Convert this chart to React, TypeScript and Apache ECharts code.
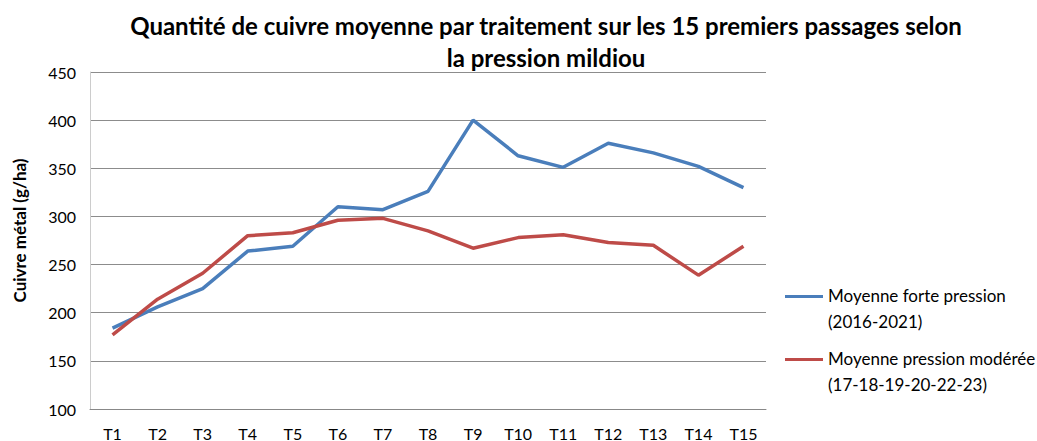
import React, { useEffect, useRef } from "react";
import * as echarts from "echarts";

const categories = ["T1", "T2", "T3", "T4", "T5", "T6", "T7", "T8", "T9", "T10", "T11", "T12", "T13", "T14", "T15"];
const forteValues = [184, 206, 225, 264, 269, 310, 307, 326, 400, 363, 351, 376, 366, 352, 330];
const modereeValues = [177, 214, 241, 280, 283, 296, 298, 285, 267, 278, 281, 273, 270, 239, 269];
const forteName = "Moyenne forte pression\n(2016-2021)";
const modereeName = "Moyenne pression modérée\n(17-18-19-20-22-23)";
const titleText = "Quantité de cuivre moyenne par traitement sur les 15 premiers passages selon\nla pression mildiou";
const yAxisName = "Cuivre métal (g/ha)";

const FONT = "Lato, 'Open Sans', sans-serif";
const ICON = "path://M0,0L38,0L38,3L0,3Z M0,25.95L0.01,25.95L0.01,26L0,26Z";

const legendBase = {
  orient: "vertical",
  left: 780,
  itemWidth: 38,
  itemHeight: 29,
  itemGap: 0,
  itemTextGap: 2,
  icon: ICON,
  textStyle: { fontFamily: FONT, fontSize: 17, color: "#000", lineHeight: 26 },
};

export default function App() {
  const ref = useRef<HTMLDivElement>(null);
  useEffect(() => {
    if (!ref.current) return;
    const chart = echarts.init(ref.current, null, { renderer: "svg" });
    chart.setOption({
      animation: false,
      backgroundColor: "#ffffff",
      title: {
        text: titleText,
        left: 541,
        top: 4,
        textAlign: "center",
        textStyle: { fontFamily: FONT, fontSize: 24, fontWeight: "bold", color: "#000", lineHeight: 32 },
      },
      legend: [
        { ...legendBase, top: 277, data: [forteName] },
        { ...legendBase, top: 340, data: [modereeName] },
      ],
      grid: { left: 90, right: 271, top: 72, bottom: 31 },
      xAxis: {
        type: "category",
        data: categories,
        boundaryGap: true,
        axisLine: { lineStyle: { color: "#888", width: 1 } },
        axisTick: { show: false },
        axisLabel: { fontFamily: FONT, fontSize: 16, color: "#000", margin: 16 },
      },
      yAxis: {
        type: "value",
        min: 100,
        max: 450,
        interval: 50,
        name: yAxisName,
        nameLocation: "middle",
        nameGap: 62,
        nameTextStyle: { fontFamily: FONT, fontSize: 17, fontWeight: "bold", color: "#000", padding: [0, 0, 0, 20] },
        axisLine: { show: true, lineStyle: { color: "#ccc" } },
        axisTick: { show: false },
        axisLabel: { fontFamily: FONT, fontSize: 16, color: "#000", margin: 14 },
        splitLine: { lineStyle: { color: "#8c8c8c", width: 1 } },
      },
      series: [
        {
          name: forteName,
          type: "line",
          data: forteValues,
          symbol: "none",
          color: "#4a7ebb",
          lineStyle: { width: 3.5, color: "#4a7ebb" },
        },
        {
          name: modereeName,
          type: "line",
          data: modereeValues,
          symbol: "none",
          color: "#be4b48",
          lineStyle: { width: 3.5, color: "#be4b48" },
        },
      ],
    });
    return () => chart.dispose();
  }, []);
  return <div ref={ref} style={{ position: "fixed", left: 0, top: 0, width: 1037, height: 441 }} />;
}
